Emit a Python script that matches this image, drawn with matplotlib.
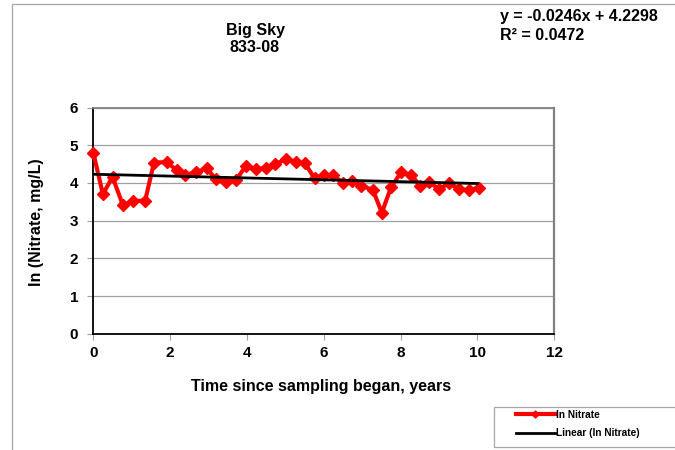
import matplotlib
matplotlib.use("Agg")
import matplotlib.pyplot as plt
from matplotlib.patches import Rectangle

plt.rcParams['font.family'] = ['Liberation Sans', 'DejaVu Sans']
plt.rcParams['font.weight'] = 'bold'

# Sampling times (years) and ln(nitrate) values
years = [0.00, 0.25, 0.50, 0.77, 1.04, 1.35, 1.58, 1.91, 2.17, 2.40,
         2.67, 2.95, 3.19, 3.45, 3.72, 3.97, 4.24, 4.50, 4.73, 5.01,
         5.27, 5.51, 5.76, 6.00, 6.24, 6.50, 6.73, 6.97, 7.28, 7.51,
         7.75, 8.01, 8.27, 8.51, 8.74, 9.00, 9.25, 9.53, 9.77, 10.04]
ln_nitrate = [4.80, 3.70, 4.16, 3.41, 3.52, 3.53, 4.54, 4.55, 4.34, 4.21,
              4.28, 4.39, 4.10, 4.03, 4.08, 4.45, 4.37, 4.39, 4.49, 4.63,
              4.55, 4.52, 4.12, 4.20, 4.21, 3.99, 4.06, 3.93, 3.81, 3.21,
              3.88, 4.28, 4.21, 3.93, 4.03, 3.83, 3.99, 3.83, 3.81, 3.87]

# Linear trend
slope = -0.0246
intercept = 4.2298
r_squared = 0.0472
trend_x = [0, 10]

x_ticks = [0, 2, 4, 6, 8, 10, 12]
y_ticks = [0, 1, 2, 3, 4, 5, 6]

W, H = 675, 450
fig = plt.figure(figsize=(6.75, 4.5), dpi=100)

# outer chart frame
fig.patches.append(Rectangle((11.5 / W, -0.1), 2.0, 1 - 3.5 / H + 0.1,
                             transform=fig.transFigure, fill=False,
                             edgecolor='#a6a6a6', linewidth=0.9))

ax = fig.add_axes([93.3 / W, 1 - 333.7 / H, (554.3 - 93.3) / W, (333.7 - 107.5) / H])

trend_y = [slope * x + intercept for x in trend_x]
l1, = ax.plot(years, ln_nitrate, color='#ff0000', linewidth=3.0,
              marker='D', markersize=6, markeredgecolor='#ff0000', zorder=3,
              clip_on=False)
l2, = ax.plot(trend_x, trend_y, color='black', linewidth=2.0, zorder=4)

ax.set_xlim(0, 12)
ax.set_ylim(0, 6)
ax.set_xticks(x_ticks)
ax.set_yticks(y_ticks)
ax.set_xticklabels([str(v) for v in x_ticks], fontsize=11, fontweight='bold')
ax.set_yticklabels([str(v) for v in y_ticks], fontsize=11, fontweight='bold')
ax.tick_params(axis='both', length=4, color='#a0a0a0', width=0.8)
ax.tick_params(axis='y', pad=7)
ax.tick_params(axis='x', pad=5)

ax.grid(axis='y', color='#a0a0a0', linewidth=0.9)
ax.set_axisbelow(True)
ax.spines['left'].set_color('black')
ax.spines['bottom'].set_color('black')
ax.spines['left'].set_linewidth(1.3)
ax.spines['bottom'].set_linewidth(1.3)
ax.spines['top'].set_color('#808080')
ax.spines['right'].set_color('#808080')
ax.spines['top'].set_linewidth(1.3)
ax.spines['right'].set_linewidth(1.6)

fig.text(255 / W, 1 - 31 / H, 'Big Sky', ha='center', va='center', fontsize=11.5, fontweight='bold')
fig.text(255 / W, 1 - 48 / H, '833-08', ha='center', va='center', fontsize=11.5, fontweight='bold')

fig.text(500 / W, 1 - 17 / H, f'y = {slope:.4f}x + {intercept:.4f}', ha='left', va='center',
         fontsize=11.5, fontweight='bold')
fig.text(500 / W, 1 - 36 / H, f'R² = {r_squared:.4f}', ha='left', va='center',
         fontsize=11.5, fontweight='bold')

fig.text(321 / W, 1 - 386 / H, 'Time since sampling began, years', ha='center', va='center',
         fontsize=11.5, fontweight='bold')
fig.text(37 / W, 1 - 222 / H, 'ln (Nitrate, mg/L)', ha='center', va='center',
         rotation=90, fontsize=11.5, fontweight='bold')

# legend box
fig.patches.append(Rectangle((494.3 / W, 1 - 447.3 / H), 1.0, 40 / H,
                             transform=fig.transFigure, fill=False,
                             edgecolor='#a6a6a6', linewidth=0.9))
leg = fig.legend([l1, l2], ['ln Nitrate', 'Linear (ln Nitrate)'],
                 loc='upper left', bbox_to_anchor=(516 / W, 1 - 410 / H),
                 frameon=False, prop={'weight': 'bold', 'size': 7.3},
                 handlelength=3.8, handletextpad=0.1, borderpad=0, borderaxespad=0,
                 labelspacing=0.8, numpoints=1, markerscale=0.6)

fig.savefig('out.png', dpi=100)
